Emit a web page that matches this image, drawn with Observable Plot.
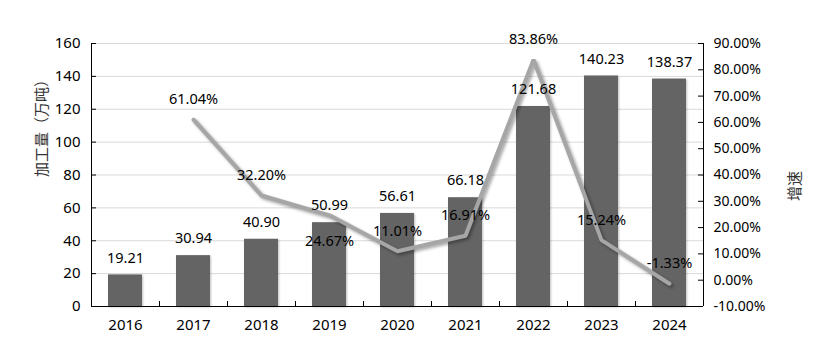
<!DOCTYPE html>
<html>
<head>
<meta charset="utf-8">
<script src="https://cdn.jsdelivr.net/npm/d3@7"></script>
<script src="https://cdn.jsdelivr.net/npm/@observablehq/plot@0.6"></script>
<style>
  html, body { margin: 0; padding: 0; background: #fff; }
  #chart svg { font-family: "Noto Sans", "Noto Sans CJK SC", sans-serif; }
  .shadow-line path { filter: drop-shadow(2px 2px 1.5px rgba(0,0,0,0.35)); }
  .shadow-bar rect { filter: drop-shadow(1.5px 1px 1px rgba(0,0,0,0.25)); }
</style>
</head>
<body>
<div id="chart"></div>
<script>
const years = ["2016","2017","2018","2019","2020","2021","2022","2023","2024"];
const volume = [19.21, 30.94, 40.90, 50.99, 56.61, 66.18, 121.68, 140.23, 138.37];
const growthYears = ["2017","2018","2019","2020","2021","2022","2023","2024"];
const growth = [61.04, 32.20, 24.67, 11.01, 16.91, 83.86, 15.24, -1.33];
const leftTicks = [0, 20, 40, 60, 80, 100, 120, 140, 160];
const rightTicks = [-10, 0, 10, 20, 30, 40, 50, 60, 70, 80, 90];
const leftTitle = "加工量（万吨）";
const rightTitle = "增速";

// map percent (-10..90) onto the left scale (0..160)
const toY = p => (p + 10) * 1.6;
const fromY = v => v / 1.6 - 10;

const bars = years.map((y, i) => ({year: y, value: volume[i]}));
const pts = growthYears.map((y, i) => ({year: y, pct: growth[i], yv: toY(growth[i])}));

const font = "'Noto Sans', sans-serif";
const cjk = "'Noto Sans CJK SC', sans-serif";
const first = years[0], last = years[years.length - 1];

const chart = Plot.plot({
  width: 816,
  height: 354,
  marginLeft: 91,
  marginRight: 113,
  marginTop: 43,
  marginBottom: 48,
  style: {fontFamily: font, fontSize: "14px", color: "#000", background: "#fff"},
  x: {domain: years, paddingInner: 0.5, paddingOuter: 0.25, label: null},
  y: {domain: [0, 160], label: null},
  marks: [
    Plot.gridY(leftTicks.filter(d => d > 0), {stroke: "#d9d9d9", strokeOpacity: 1}),
    Plot.barY(bars, {x: "year", y: "value", fill: "#646464", className: "shadow-bar"}),
    Plot.line(pts, {x: "year", y: "yv", stroke: "#a6a6a6", strokeWidth: 4, strokeLinejoin: "miter", className: "shadow-line"}),
    // bottom axis line and boundary ticks
    Plot.ruleY([0], {stroke: "#000"}),
    Plot.ruleX(years.slice(1), {x: d => d, dx: -34, y1: 0, y2: 3, stroke: "#000"}),
    Plot.axisX({tickSize: 0, tickPadding: 13, fontSize: 15}),
    // left axis
    Plot.ruleX([first], {x: d => d, dx: -34, y1: 0, y2: 160, stroke: "#000"}),
    Plot.tickY(leftTicks, {x: d => first, y: d => d, dx: -17, insetRight: 29, stroke: "#000"}),
    Plot.axisY(leftTicks, {anchor: "left", tickSize: 0, tickPadding: 11, fontSize: 15, label: null}),
    // right axis
    Plot.ruleX([last], {x: d => d, dx: 34, y1: 0, y2: 160, stroke: "#000"}),
    Plot.tickY(rightTicks, {x: d => last, y: d => toY(d), dx: 17, insetLeft: 29, stroke: "#000"}),
    Plot.axisY(rightTicks.map(toY), {anchor: "right", tickSize: 0, tickPadding: 10, fontSize: 14, label: null,
      tickFormat: v => fromY(v).toFixed(2) + "%"}),
    // value labels
    Plot.text(bars, {x: "year", y: "value", text: d => d.value.toFixed(2), dy: -17, fontSize: 14.5, fill: "#000"}),
    Plot.text(pts.filter(d => d.year !== "2019"), {x: "year", y: "yv", text: d => d.pct.toFixed(2) + "%", dy: -20, fontSize: 14.5, fill: "#000"}),
    Plot.text(pts.filter(d => d.year === "2019"), {x: "year", y: "yv", text: d => d.pct.toFixed(2) + "%", dy: 26, fontSize: 14.5, fill: "#000"}),
    // axis titles
    Plot.text([leftTitle], {frameAnchor: "left", dx: -49, dy: 2, rotate: -90, fontSize: 15, fill: "#333", fontFamily: cjk}),
    Plot.text([rightTitle], {frameAnchor: "right", dx: 92, dy: -4, rotate: -90, fontSize: 15, fill: "#333", fontFamily: cjk})
  ]
});

document.getElementById("chart").appendChild(chart);
</script>
</body>
</html>
